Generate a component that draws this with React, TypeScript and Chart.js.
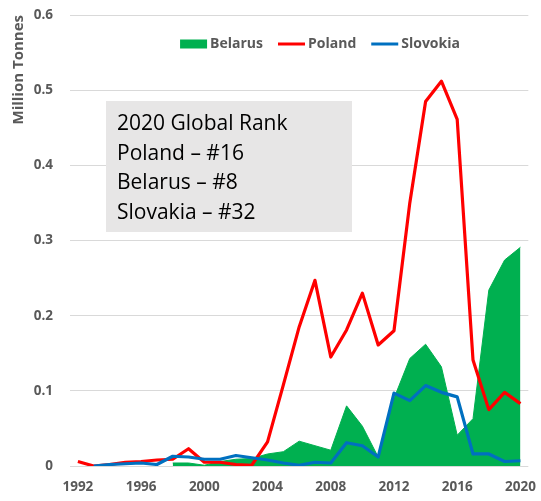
import React, { useEffect, useRef } from 'react';
import { Chart, registerables } from 'chart.js';

Chart.register(...registerables);

const years = [
  '1992', '1993', '1994', '1995', '1996', '1997', '1998', '1999', '2000', '2001',
  '2002', '2003', '2004', '2005', '2006', '2007', '2008', '2009', '2010', '2011',
  '2012', '2013', '2014', '2015', '2016', '2017', '2018', '2019', '2020',
];
const tickLabels = ['1992', '1996', '2000', '2004', '2008', '2012', '2016', '2020'];

const belarus = [
  null, null, null, null, null, null, 0.004, 0.004, 0.001, 0.006,
  0.009, 0.010, 0.016, 0.019, 0.033, 0.027, 0.021, 0.080, 0.053, 0.012,
  0.090, 0.143, 0.162, 0.132, 0.041, 0.063, 0.234, 0.274, 0.291,
];
const poland = [
  0.006, 0.000, 0.002, 0.005, 0.006, 0.008, 0.009, 0.023, 0.005, 0.005,
  0.002, 0.001, 0.032, 0.108, 0.185, 0.247, 0.145, 0.181, 0.230, 0.161,
  0.180, 0.350, 0.485, 0.512, 0.461, 0.141, 0.075, 0.098, 0.083,
];
const slovakia = [
  null, 0.000, 0.002, 0.003, 0.004, 0.002, 0.013, 0.012, 0.009, 0.009,
  0.014, 0.011, 0.008, 0.004, 0.001, 0.005, 0.004, 0.031, 0.027, 0.012,
  0.097, 0.087, 0.107, 0.098, 0.092, 0.016, 0.016, 0.006, 0.007,
];

const rankLines = ['2020 Global Rank', 'Poland \u2013 #16', 'Belarus \u2013 #8', 'Slovakia \u2013 #32'];

const GREEN = '#00b050';
const RED = '#ff0000';
const BLUE = '#0070c0';
const GRAY_TEXT = '#595959';
const FONT = '"Open Sans", "Noto Sans", sans-serif';

const overlayPlugin = {
  id: 'overlay',
  afterDraw(chart: any) {
    const ctx = chart.ctx as CanvasRenderingContext2D;
    const area = chart.chartArea;
    ctx.save();

    // Legend inside the plot area
    ctx.font = `bold 14px ${FONT}`;
    ctx.textBaseline = 'middle';
    ctx.textAlign = 'left';
    const symW = 27;
    const gap = 3;
    const itemGap = 15;
    const items = chart.data.datasets.map((ds: any) => ({
      label: ds.label,
      color: ds.fill ? ds.backgroundColor : ds.borderColor,
      box: !!ds.fill,
      w: ctx.measureText(ds.label).width,
    }));
    let total = 0;
    items.forEach((it: any, i: number) => {
      total += symW + gap + it.w + (i > 0 ? itemGap : 0);
    });
    const cx = area.left + 250;
    let x = cx - total / 2;
    const ly = area.top + 29;
    items.forEach((it: any) => {
      if (it.box) {
        ctx.fillStyle = it.color;
        ctx.fillRect(x, ly - 4.5, symW, 9);
      } else {
        ctx.strokeStyle = it.color;
        ctx.lineWidth = 3;
        ctx.beginPath();
        ctx.moveTo(x, ly);
        ctx.lineTo(x + symW, ly);
        ctx.stroke();
      }
      ctx.fillStyle = GRAY_TEXT;
      ctx.fillText(it.label, x + symW + gap, ly + 0.5);
      x += symW + gap + it.w + itemGap;
    });

    // Annotation box
    const bx = area.left + 36;
    const by = area.top + 86;
    ctx.fillStyle = '#e7e6e6';
    ctx.fillRect(bx, by, 246, 131);
    ctx.fillStyle = '#000000';
    ctx.font = `21px ${FONT}`;
    ctx.textBaseline = 'alphabetic';
    rankLines.forEach((line, i) => {
      ctx.fillText(line, bx + 11, by + 29 + i * 29.7);
    });

    ctx.restore();
  },
};

export default function App() {
  const canvasRef = useRef<HTMLCanvasElement | null>(null);

  useEffect(() => {
    if (!canvasRef.current) return;
    const chart = new Chart(canvasRef.current, {
      type: 'line',
      data: {
        labels: years,
        datasets: [
          {
            label: 'Belarus',
            data: belarus,
            borderColor: GREEN,
            backgroundColor: GREEN,
            borderWidth: 1,
            fill: 'origin',
            pointRadius: 0,
            tension: 0,
            order: 3,
          },
          {
            label: 'Poland',
            data: poland,
            borderColor: RED,
            backgroundColor: RED,
            borderWidth: 3.2,
            borderJoinStyle: 'round',
            fill: false,
            pointRadius: 0,
            tension: 0,
            order: 2,
          },
          {
            label: 'Slovokia',
            data: slovakia,
            borderColor: BLUE,
            backgroundColor: BLUE,
            borderWidth: 3.2,
            borderJoinStyle: 'round',
            fill: false,
            pointRadius: 0,
            tension: 0,
            order: 1,
          },
        ],
      },
      options: {
        responsive: false,
        animation: false,
        devicePixelRatio: 1,
        layout: { padding: { left: 0, right: 8, top: 15, bottom: 0 } },
        plugins: {
          legend: { display: false },
          tooltip: { enabled: false },
        },
        scales: {
          x: {
            type: 'category',
            offset: true,
            grid: { display: false },
            border: { display: false },
            ticks: {
              autoSkip: false,
              maxRotation: 0,
              minRotation: 0,
              padding: 5,
              color: GRAY_TEXT,
              font: { family: FONT, size: 13.5, weight: 'bold' },
              callback: function (this: any, value: any) {
                const lab = this.getLabelForValue(value);
                return tickLabels.includes(lab) ? lab : '';
              },
            },
            afterFit: (scale: any) => {
              scale.height = 35;
            },
          },
          y: {
            min: 0,
            max: 0.6,
            grid: {
              color: '#d9d9d9',
              lineWidth: 1,
              drawTicks: true,
              tickLength: 17,
              tickColor: 'rgba(0,0,0,0)',
            },
            border: { display: false },
            ticks: {
              stepSize: 0.1,
              padding: 0,
              color: GRAY_TEXT,
              font: { family: FONT, size: 13.5, weight: 'bold' },
              callback: (v: any) => (Number(v) === 0 ? '0' : Number(v).toFixed(1)),
            },
            title: {
              display: true,
              text: 'Million Tonnes',
              align: 'end',
              color: GRAY_TEXT,
              font: { family: FONT, size: 15, weight: 'bold' },
              padding: { top: 10, bottom: 0 },
            },
            afterFit: (scale: any) => {
              scale.width = 70;
            },
          },
        },
      },
      plugins: [overlayPlugin],
    } as any);
    return () => chart.destroy();
  }, []);

  return (
    <div style={{ position: 'absolute', left: 0, top: 0, width: 541, height: 501, background: '#ffffff' }}>
      <canvas ref={canvasRef} width={541} height={501} style={{ display: 'block' }} />
    </div>
  );
}
